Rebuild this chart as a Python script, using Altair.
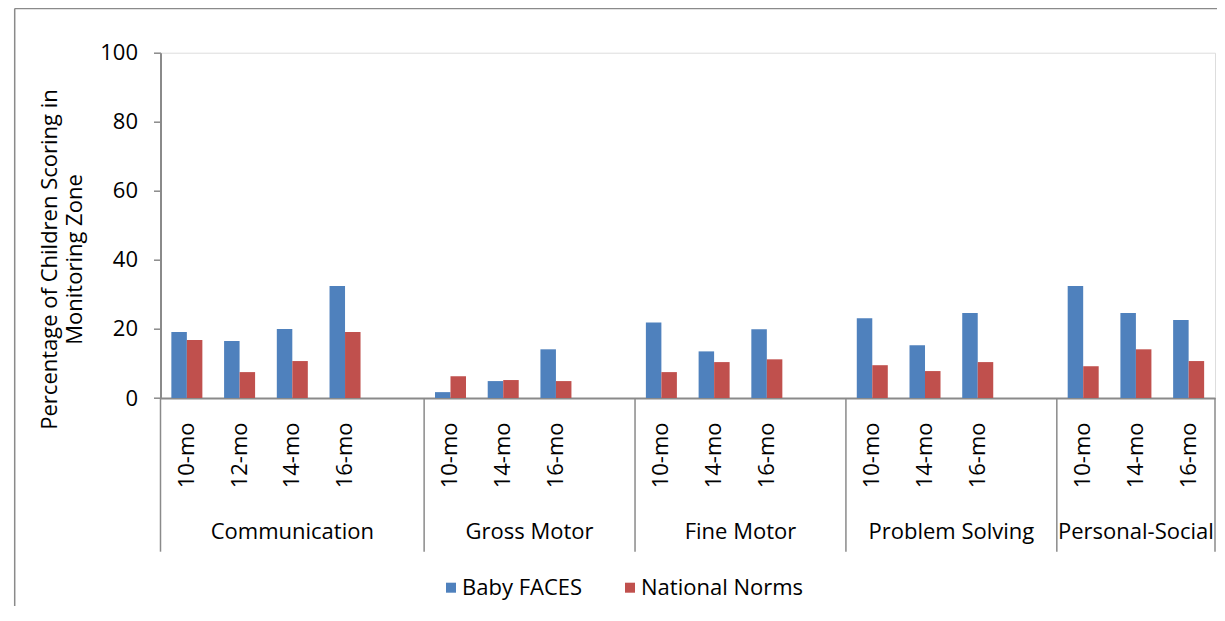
import altair as alt
import pandas as pd

# ---------------- data ----------------
groups = ["Communication", "Gross Motor", "Fine Motor", "Problem Solving", "Personal-Social"]
ages = {
    "Communication": ["10-mo", "12-mo", "14-mo", "16-mo"],
    "Gross Motor": ["10-mo", "14-mo", "16-mo"],
    "Fine Motor": ["10-mo", "14-mo", "16-mo"],
    "Problem Solving": ["10-mo", "14-mo", "16-mo"],
    "Personal-Social": ["10-mo", "14-mo", "16-mo"],
}
series_names = ["Baby FACES", "National Norms"]
baby_faces = {
    "Communication": [19.1, 16.5, 20.0, 32.4],
    "Gross Motor": [1.7, 4.9, 14.1],
    "Fine Motor": [21.9, 13.5, 19.9],
    "Problem Solving": [23.1, 15.3, 24.6],
    "Personal-Social": [32.4, 24.6, 22.6],
}
national_norms = {
    "Communication": [16.8, 7.5, 10.7, 19.1],
    "Gross Motor": [6.3, 5.2, 4.9],
    "Fine Motor": [7.5, 10.4, 11.2],
    "Problem Solving": [9.5, 7.8, 10.4],
    "Personal-Social": [9.2, 14.1, 10.7],
}
y_ticks = [0, 20, 40, 60, 80, 100]
y_title = ["Percentage of Children Scoring in", "Monitoring Zone"]

# ---------------- derived tables ----------------
slots = []
bar_rows = []
first_slots = []
for gi, g in enumerate(groups):
    first_slots.append(f"{g}|{ages[g][0]}")
    for i, a in enumerate(ages[g]):
        s = f"{g}|{a}"
        slots.append(s)
        bar_rows.append({"slot": s, "series": series_names[0], "value": baby_faces[g][i]})
        bar_rows.append({"slot": s, "series": series_names[1], "value": national_norms[g][i]})
    if gi < len(groups) - 1:
        slots.append(f"{g}|")

bars_df = pd.DataFrame(bar_rows)
sep_df = pd.DataFrame({"slot": first_slots})
end_df = pd.DataFrame({"slot": [slots[-1]]})

# group label centres
lab_even, lab_odd = [], []
for g in groups:
    group_slots = [s for s in slots if s.split("|")[0] == g]
    n = len(group_slots)
    if n % 2 == 1:
        lab_odd.append({"slot": group_slots[n // 2], "group": g})
    else:
        lab_even.append({"slot": group_slots[n // 2], "group": g})
lab_odd_df = pd.DataFrame(lab_odd)
lab_even_df = pd.DataFrame(lab_even)

# ---------------- layout ----------------
W = 1054.5
H = 345.3
FONT = "Open Sans"
FS = 22
GRAY = "#8a8a8a"

xscale = alt.Scale(domain=slots, paddingInner=0, paddingOuter=0)

bars = alt.Chart(bars_df).mark_bar(size=15.5).encode(
    x=alt.X(
        "slot:N",
        scale=xscale,
        axis=alt.Axis(
            title=None,
            ticks=False,
            labelExpr="split(datum.value, '|')[1]",
            labelAngle=270,
            labelAlign="right",
            labelBaseline="middle",
            labelPadding=24,
            labelFont=FONT,
            labelFontSize=FS,
            labelColor="black",
            domainColor=GRAY,
            domainWidth=2,
        ),
    ),
    xOffset=alt.XOffset(
        "series:N",
        scale=alt.Scale(domain=series_names, paddingInner=0, paddingOuter=0.7),
    ),
    y=alt.Y(
        "value:Q",
        scale=alt.Scale(domain=[0, 100], nice=False),
        axis=alt.Axis(
            values=y_ticks,
            grid=False,
            tickSize=7,
            tickColor=GRAY,
            tickWidth=1.5,
            domainColor=GRAY,
            domainWidth=2,
            labelFont=FONT,
            labelFontSize=FS,
            labelColor="black",
            labelPadding=16,
            title=y_title,
            titleFont=FONT,
            titleFontSize=FS,
            titleFontWeight="normal",
            titleColor="black",
            titleAngle=270,
            titleAlign="center",
            titleBaseline="alphabetic",
            titleLineHeight=25,
            titleX=-103.8,
            titleY=206.3,
        ),
    ),
    color=alt.Color(
        "series:N",
        scale=alt.Scale(domain=series_names, range=["#4F81BD", "#C0504D"]),
        legend=alt.Legend(
            title=None,
            orient="none",
            direction="horizontal",
            legendX=279.5,
            legendY=524,
            symbolType="square",
            symbolSize=100,
            symbolStrokeWidth=0,
            labelFont=FONT,
            labelFontSize=FS,
            labelColor="black",
            labelOffset=0,
            labelLimit=400,
            columnPadding=36,
            padding=0,
        ),
    ),
)

seps = alt.Chart(sep_df).mark_rule(color=GRAY, strokeWidth=1.5).encode(
    x=alt.X("slot:N", scale=xscale, bandPosition=0),
    y=alt.value(H),
    y2=alt.value(H + 153.7),
)
end_sep = alt.Chart(end_df).mark_rule(color=GRAY, strokeWidth=1.5).encode(
    x=alt.X("slot:N", scale=xscale, bandPosition=1),
    y=alt.value(H),
    y2=alt.value(H + 153.7),
)

lab_style = dict(font=FONT, fontSize=FS, color="black", align="center", baseline="alphabetic")
labs_odd = alt.Chart(lab_odd_df).mark_text(**lab_style).encode(
    x=alt.X("slot:N", scale=xscale, bandPosition=0.5),
    y=alt.value(H + 141.3),
    text="group:N",
)
labs_even = alt.Chart(lab_even_df).mark_text(**lab_style).encode(
    x=alt.X("slot:N", scale=xscale, bandPosition=0),
    y=alt.value(H + 141.3),
    text="group:N",
)

# outer chart frame (top and left edges)
frame_top = alt.Chart(pd.DataFrame({"a": [0]})).mark_rule(color=GRAY, strokeWidth=1.5).encode(
    x=alt.value(-145.8), x2=alt.value(W + 10), y=alt.value(-44.2)
)
frame_left = alt.Chart(pd.DataFrame({"a": [0]})).mark_rule(color=GRAY, strokeWidth=1.5).encode(
    x=alt.value(-145.8), y=alt.value(-44.2), y2=alt.value(H + 270)
)

chart = alt.layer(
    frame_top, frame_left, seps, end_sep, bars, labs_odd, labs_even
).properties(
    width=W,
    height=H,
    autosize=alt.AutoSizeParams(type="none"),
    padding={"left": 152.5, "top": 44.7, "right": 1.5, "bottom": 208},
).configure_view(stroke=None).configure(background="white")

chart.save("out.html", embed_options={"renderer": "svg", "actions": False})
